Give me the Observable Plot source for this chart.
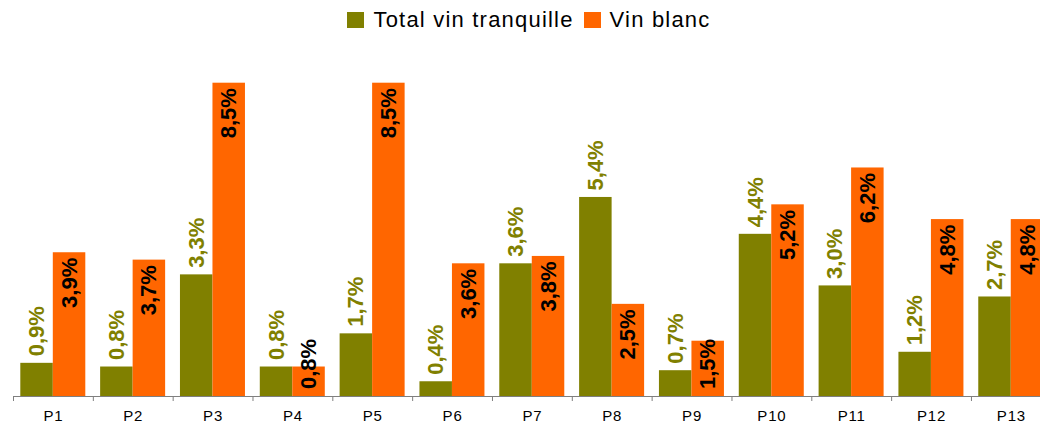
<!DOCTYPE html>
<html>
<head>
<meta charset="utf-8">
<script src="https://cdn.jsdelivr.net/npm/d3@7"></script>
<script src="https://cdn.jsdelivr.net/npm/@observablehq/plot@0.6"></script>
<style>
  body { margin: 0; background: #fff; font-family: "Liberation Sans", Arial, sans-serif; }
  #legend { height: 40px; display: flex; justify-content: center; align-items: center; padding-left: 18px; box-sizing: border-box; font-size: 22px; letter-spacing: 1.2px; color: #000; }
  .item { display: flex; align-items: center; margin: 0 5px; }
  .sw { width: 17px; height: 16px; margin-right: 9px; }
  #chart g[aria-label^="x-axis"] text { font-size: 15px; letter-spacing: 0.8px; }
</style>
</head>
<body>
<div id="legend"></div>
<div id="chart"></div>
<script>
const periods = ["P1","P2","P3","P4","P5","P6","P7","P8","P9","P10","P11","P12","P13"];
const totalVinTranquille = [0.9,0.8,3.3,0.8,1.7,0.4,3.6,5.4,0.7,4.4,3.0,1.2,2.7];
const vinBlanc = [3.9,3.7,8.5,0.8,8.5,3.6,3.8,2.5,1.5,5.2,6.2,4.8,4.8];
const seriesNames = ["Total vin tranquille", "Vin blanc"];
const colors = ["#808000", "#FF6600"];

const data = periods.map((p, i) => ({period: p, total: totalVinTranquille[i], blanc: vinBlanc[i]}));
const fmt = v => v.toFixed(1).replace(".", ",") + "%";

const legend = document.getElementById("legend");
seriesNames.forEach((n, i) => {
  const it = document.createElement("div");
  it.className = "item";
  it.innerHTML = `<span class="sw" style="background:${colors[i]}"></span><span>${n}</span>`;
  legend.appendChild(it);
});

const width = 1040, height = 385;
const marginLeft = 13, step = 79.83;
const groupEnd = marginLeft + step * periods.length;
const bw = 32.5, inset = 7.3;
const half = step / 2;
const offOlive = inset + bw / 2 - half;
const offOrange = inset + bw + bw / 2 - half;

const chart = Plot.plot({
  width, height,
  marginLeft, marginRight: width - groupEnd,
  marginTop: 42.7, marginBottom: 29,
  style: {fontFamily: "Liberation Sans, Arial, sans-serif", fontSize: "15px", color: "#000", background: "#fff"},
  x: {domain: periods, paddingInner: 0, paddingOuter: 0, round: false, tickSize: 0, tickPadding: 14, label: null},
  y: {domain: [0, 8.5], axis: null},
  marks: [
    Plot.barY(data, {x: "period", y: "total", fill: colors[0], insetLeft: inset, insetRight: step - inset - bw}),
    Plot.barY(data, {x: "period", y: "blanc", fill: colors[1], insetLeft: inset + bw, insetRight: step - inset - 2 * bw}),
    Plot.ruleY([0], {stroke: "#7f7f7f", strokeWidth: 1}),
    Plot.ruleX(periods, {x: d => d, y1: 0, y2: 0, insetBottom: -5, dx: -half, stroke: "#7f7f7f", strokeWidth: 1}),
    Plot.text(data, {x: "period", y: "total", text: d => fmt(d.total), rotate: -90, textAnchor: "start", dx: offOlive, dy: -7, fill: colors[0], fontWeight: "bold", fontSize: 22}),
    Plot.text(data, {x: "period", y: d => Math.max(d.blanc, 1.7), text: d => fmt(d.blanc), rotate: -90, textAnchor: "end", dx: offOrange, dy: 5, fill: "#000", fontWeight: "bold", fontSize: 22})
  ]
});
document.getElementById("chart").appendChild(chart);
</script>
</body>
</html>
